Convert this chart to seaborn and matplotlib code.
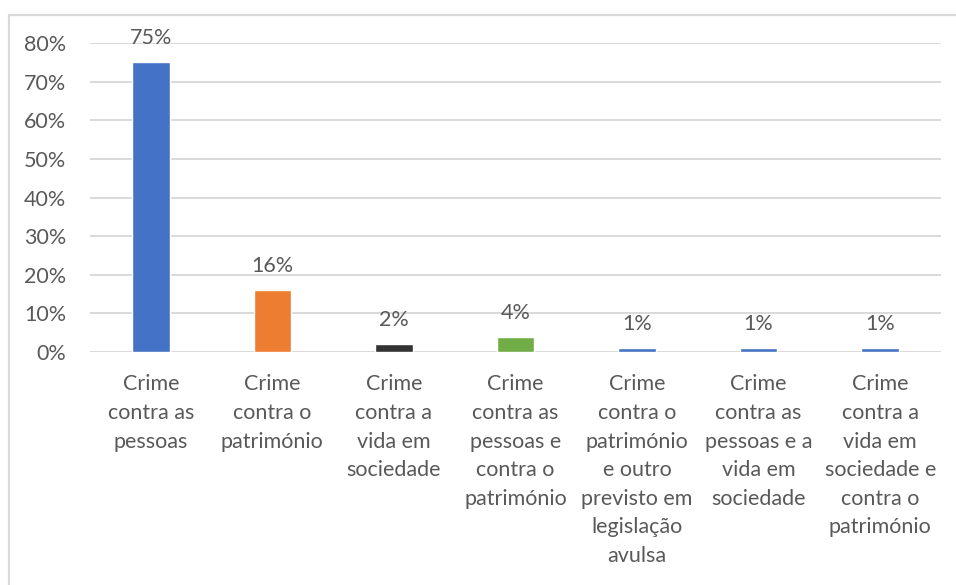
import matplotlib
matplotlib.use("Agg")
import matplotlib.pyplot as plt
from matplotlib.patches import Rectangle
import seaborn as sns
import pandas as pd

categories = [
    "Crime\ncontra as\npessoas",
    "Crime\ncontra o\npatrimónio",
    "Crime\ncontra a\nvida em\nsociedade",
    "Crime\ncontra as\npessoas e\ncontra o\npatrimónio",
    "Crime\ncontra o\npatrimónio\ne outro\nprevisto em\nlegislação\navulsa",
    "Crime\ncontra as\npessoas e a\nvida em\nsociedade",
    "Crime\ncontra a\nvida em\nsociedade e\ncontra o\npatrimónio",
]
values = [75, 16, 2, 4, 1, 1, 1]
bar_colors = ["#4472C4", "#ED7D31", "#333333", "#70AD47", "#4472C4", "#4472C4", "#4472C4"]
y_ticks = [0, 10, 20, 30, 40, 50, 60, 70, 80]

sns.set_style("white")
plt.rcParams["font.family"] = ["Lato", "DejaVu Sans"]
text_color = "#595959"
fs = 15.5

df = pd.DataFrame({"categoria": categories, "valor": values})

fig = plt.figure(figsize=(9.56, 5.85), dpi=100)
ax = fig.add_axes([90 / 956, 1 - 352 / 585, (941 - 90) / 956, (352 - 43) / 585])

sns.barplot(data=df, x="categoria", y="valor", hue="categoria",
            palette=bar_colors, width=0.31, legend=False, ax=ax,
            saturation=1, zorder=3)

ax.set_ylim(0, 80)
ax.set_yticks(y_ticks)
ax.set_yticklabels([f"{t}%" for t in y_ticks], fontsize=fs, color=text_color)
ax.yaxis.grid(True, color="#D9D9D9", linewidth=1.4, zorder=0)
ax.set_axisbelow(True)
for s in ax.spines.values():
    s.set_visible(False)
ax.tick_params(axis="both", length=0)
ax.tick_params(axis="y", pad=17)
ax.set_xlabel("")
ax.set_ylabel("")
ax.set_xticks(range(len(categories)))
ax.set_xticklabels(categories, fontsize=fs, color=text_color, linespacing=1.54,
                   va="top", ha="center")
ax.tick_params(axis="x", pad=16)

for i, v in enumerate(values):
    ax.annotate(f"{v}%", (i, v), xytext=(0, 10), textcoords="offset points",
                ha="center", va="bottom", fontsize=fs, color=text_color)

fig.patches.append(Rectangle((8.5 / 956, -0.1), 1.2, 1 - 14.5 / 585 + 0.1,
                             transform=fig.transFigure, fill=False,
                             edgecolor="#D9D9D9", linewidth=1.6, zorder=0))

fig.savefig("out.png", dpi=100)
